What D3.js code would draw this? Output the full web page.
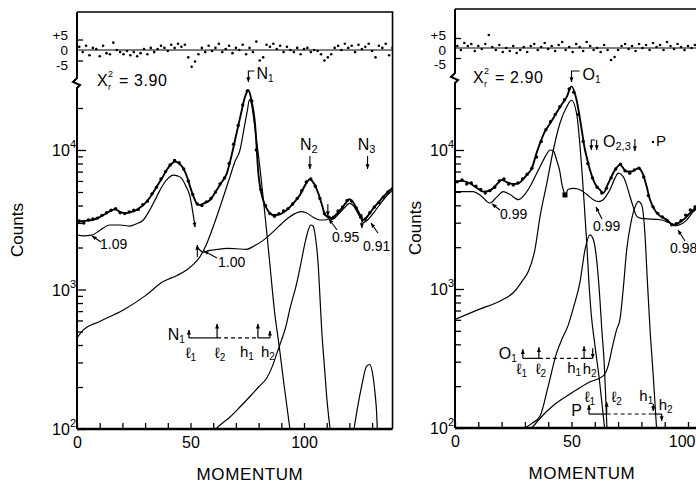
<!DOCTYPE html>
<html><head><meta charset="utf-8">
<script src="https://cdn.jsdelivr.net/npm/d3@7"></script>
<style>
body{margin:0;background:#fff}
svg{display:block}
text{font-family:"Liberation Sans",Arial,"DejaVu Sans",sans-serif;fill:#000}
</style></head><body>
<svg id="c" width="696" height="484"></svg>
<script>
// ================= DATA =================
const xTickValues = [0,10,20,30,40,50,60,70,80,90,100,110,120,130];
const xTickLabels = [0,50,100];
const decadeTicks = [100,1000,10000];
const decadeExp = ["2","3","4"];
const minorTicks = [200,300,400,500,600,700,800,900,2000,3000,4000,5000,6000,7000,8000,9000,20000];
const residTicks = [5,0,-5];
const residTickLabels = ["+5","0","-5"];

// ---- Left panel (N states) ----
const leftChi = "3.90";
const leftFit = [[0,3050],[3,3100],[7,3160],[10,3300],[13,3520],[16.7,3760],[19,3600],[21,3520],[24,3600],[26.3,3720],[28.5,3950],[30.7,4260],[33,4800],[35.1,5460],[37.5,6300],[39.5,7200],[41.5,7900],[43.2,8250],[45,8000],[46.8,7400],[48.5,6400],[49.8,5460],[51.2,4700],[52.7,4150],[54,4040],[56,4150],[58.6,4380],[61,5000],[63.5,5800],[66,6800],[68,9000],[70.3,13200],[72,17500],[74,24000],[75.5,26900],[77,22000],[78.4,15600],[79.9,6800],[82,4380],[84,3700],[86.5,3420],[89,3450],[92.4,3720],[95,4100],[98.2,4750],[100.5,5600],[102.6,6170],[104.5,5700],[106.3,4900],[108,4000],[109.3,3420],[112.2,3240],[114.5,3500],[116.6,3810],[118.5,4200],[120,4440],[121.7,4200],[123.2,3810],[124.8,3400],[126.1,3150],[128,3350],[130.5,3810],[133,4250],[135,4630],[137.9,5170],[139,5300]];
const leftDataStart = 1, leftDataStep = 2;
const leftData = [3100,3000,3150,3200,3250,3400,3550,3700,3800,3550,3500,3600,3700,3750,4050,4300,4850,5400,6200,7000,7800,8400,8100,7300,6000,4800,4100,4000,4250,4500,5000,5700,6300,8000,11000,15000,21000,26500,22500,10000,5200,4000,3500,3350,3500,3650,3800,4100,4500,5100,5900,6200,5500,4500,3500,3300,3300,3650,3900,4350,4300,3850,3300,3200,3550,3900,4200,4600,5000,5300];
const leftResidStart = 1, leftResidStep = 1.5;
const leftResid = [1.5,-1,2,-2.5,1,0.5,-3,2,-1.5,-2,3.5,0,-1,-2,-0.5,-2.5,-1,-3,-1.5,0.5,-2,1,-1,0.5,2,1,-0.5,2.5,1,3,1.5,2.5,-3.5,-8,-5.5,-2,1,-1,2,-0.5,1,3,-1,0.5,2,-1.5,1,0,2.5,-2,1,-1,4,-5,-3.5,2.5,1.5,3,0.5,2,-1,1.5,0,-1,1,-2,0.5,1,-1,0,-0.5,-2,-5,-3.5,-2,1,2,0,3,1,2,-1,2.5,0.5,1.5,3,-0.5,-3.5,2,1,3,-2.5,1];
const leftBg109 = [[0,2450],[3,2420],[6.5,2450],[10,2650],[14.5,2900],[19,2900],[23.3,2850],[26,2950],[29.2,3150],[32,3700],[35.1,4630],[37.5,5500],[39.5,6100],[42.4,6600],[44.5,6500],[46.1,6270],[48,5500],[49.8,4630],[51,3600],[52,2800]];
const leftBg100 = [[53,2020],[55.6,1850],[58,1900],[60,1920],[63,1950],[66,1970],[70,1960],[74.7,1940],[78,2050],[82,2250],[86.5,2600],[90,2950],[93,3250],[96,3500],[98.5,3620],[101,3550],[104,3300],[107,3150],[109,3150],[111,3200]];
const leftBg095 = [[111,3150],[113,3200],[115,3450],[117.5,3800],[120,4150],[122,3950],[124,3450],[126,3050]];
const leftBg091 = [[126,3000],[128,3150],[131,3600],[134,4200],[137,4800],[139,5150]];
const leftN1 = [[0,449],[2.8,513],[10,590],[20.4,713],[30,900],[38,1140],[44,1260],[48.3,1380],[51,1500],[54.2,1720],[57,2100],[60,2820],[63,3900],[65,4900],[67.4,6440],[69.5,8200],[71.8,10000],[73.5,14000],[75,19000],[76,23000],[77,21000],[78,16000],[79,12000],[80,9000],[81,6500],[83,3200],[85,1500],[87,700],[89,400],[91,220],[93.8,100]];
const leftN2 = [[61,100],[64,110],[67.4,122],[72,145],[76.2,171],[80,200],[83.6,232],[86,280],[88,347],[90,430],[91.6,513],[94,750],[96.8,1110],[98.5,1500],[100.4,2140],[102,2700],[103,2900],[104,2850],[104.8,2520],[105.6,2000],[106.3,1460],[107,900],[107.8,513],[109,280],[110,170],[111.5,100]];
const leftN3 = [[122,100],[123.5,140],[125.4,203],[127.6,282],[129,290],[130.2,250],[131.3,180],[132,130],[132.3,100]];
const leftWindow = {m:[49.3,61.7,79.7,85], c:450};
const leftPeaks = [{name:"N",sub:"1",m:75.5},{name:"N",sub:"2",m:102.6},{name:"N",sub:"3",m:128}];
const leftBgLabels = ["1.09","1.00","0.95","0.91"];

// ---- Right panel (O, P states) ----
const rightChi = "2.90";
const rightFit = [[0,5930],[3,6000],[6.4,5760],[9,5400],[12.2,5020],[14,5050],[16.4,5300],[18.5,5800],[20,6100],[22,5900],[23.6,5760],[25.5,5700],[27.2,5760],[29,6100],[30.8,6610],[33,7400],[35,9500],[36.5,11200],[38.5,13500],[40.8,15500],[42.5,17300],[44.3,19400],[46,21500],[47.9,24000],[50,28700],[52.2,22800],[54.4,13900],[55.8,10000],[56.5,8950],[57.9,7200],[60,5760],[62.2,5170],[63.6,4900],[65.8,5760],[68.7,7200],[70.8,7810],[73.7,7000],[75.8,7000],[78.7,7390],[80.8,6610],[82.2,5500],[83.7,4380],[86.6,3520],[90.9,3150],[93.7,2900],[98,3150],[102.3,3720],[106,4100]];
const rightDataStart = 1, rightDataStep = 2;
const rightData = [5900,6100,5700,5800,5500,5200,4900,5100,5400,6000,6200,5700,5600,5800,6200,6700,7400,8900,11500,14000,16000,18000,20500,23000,27500,26000,18000,11500,8000,6300,5400,4900,5300,6300,7300,7900,7100,6800,7200,7400,6400,4700,3900,3500,3300,3100,2900,2950,3100,3400,3700,3900];
const rightResidStart = 1, rightResidStep = 1.5;
const rightResid = [1,-1,2.5,1,2,-1.5,1,-0.5,2,6.5,0.5,-1,1.5,-2,0,-1.5,1,-2.5,-1,0.5,-2,1,2,-1,0.5,2.5,-0.5,1,-1.5,1.5,3,-1,0.5,-2,2,0.5,-1.5,3,1,-1,0,-2,1.5,-1,-6,-4.5,-1,1,2,-0.5,1,-1.5,2,0,1.5,-1,2.5,0.5,1.5,-1,3,1,-0.5,2,0.5,-1,1,0,1.5];
const rightBgA = [[0,5020],[4,5020],[7.9,5020],[11,4700],[15,4150],[18,4600],[20.7,5020],[23.5,4800],[27.2,4390],[30,4800],[32.2,5460],[34.5,6500],[36.5,7590],[38.8,9000],[40.8,10000],[42.3,9800],[43.6,8480],[45,7000],[45.8,5760],[47.2,4750]];
const rightBgB = [[47.6,4750],[48.6,5220],[51,5300],[53.6,5170],[56.5,4800],[59.4,4390],[61.5,4250],[63.6,4390],[65,4700],[66.5,5170],[68.5,6200],[70.1,6810],[72.2,6440],[73.8,5500],[75.1,4630],[76.5,3900],[78,3330],[80,3220],[82.3,3200],[88,3150],[93.7,2900]];
const rightBgC = [[93.7,2850],[96,2880],[99,3080],[102.3,3600],[106,4000]];
const rightO1 = [[0,604],[10,710],[20,830],[25,940],[29,1150],[31.5,1340],[34.3,1920],[36.5,3330],[39.4,5760],[42.2,10000],[45,15500],[47.9,20400],[50,22800],[52.2,18300],[53.6,11000],[54.5,7000],[55.5,4000],[56.5,2200],[57.5,1100],[58.5,650],[60,400],[62,220],[64.2,100]];
const rightO2 = [[30,100],[33,108],[36.5,122],[40,200],[43.6,347],[46,440],[48.6,550],[51,750],[53.6,1110],[55.8,1920],[57.9,2450],[59.4,2260],[60.8,1620],[62.2,841],[63,513],[64,300],[65.2,100]];
const rightP = [[33,100],[37,120],[42.2,145],[48,170],[53.6,195],[58,215],[63.6,237],[65.8,282],[67.5,380],[69.4,513],[70.8,604],[72.2,1000],[73.7,1920],[75.5,3000],[77.3,3900],[78.7,4270],[80.1,4040],[81.5,2520],[82.5,1200],[83.7,513],[85,250],[86.5,100]];
const rightWindowO = {m:[29.1,36,55.4,59.1], c:317};
const rightWindowP = {m:[57.5,65.1,85.1,88.7], c:126};
const rightBgLabels = ["0.99","0.99","0.98"];

// ================= DRAWING =================
const W = 696;
const svg = d3.select("#c");
const defs = svg.append("defs");
defs.append("marker").attr("id","ah").attr("viewBox","0 0 8 8").attr("refX",7.5).attr("refY",4)
  .attr("markerWidth",5).attr("markerHeight",5).attr("orient","auto").attr("markerUnits","userSpaceOnUse")
  .append("path").attr("d","M0,0.8 L8,4 L0,7.2 Z").attr("fill","#000");

function T(g, x, y, parts, size, anchor){
  const t = g.append("text").attr("x",x).attr("y",y).attr("font-size",size).attr("text-anchor",anchor||"start");
  parts.forEach(p=>{
    const s = t.append("tspan").text(p.t);
    if(p.fs) s.attr("font-size",p.fs);
    if(p.dy) s.attr("dy",p.dy);
    if(p.dx) s.attr("dx",p.dx);
  });
  return t;
}
function arrow(g,x1,y1,x2,y2,w){
  g.append("line").attr("x1",x1).attr("y1",y1).attr("x2",x2).attr("y2",y2)
   .attr("stroke","#000").attr("stroke-width",w||1.1).attr("marker-end","url(#ah)");
}

function panel(p){
  const x = d3.scaleLinear().domain([0,p.xmax]).range([p.left, p.left + p.xmax*p.ppu]);
  const y = d3.scaleLog().domain([100,10000]).range([p.y100, p.y1e4]);
  const r = d3.scaleLinear().domain([-5,5]).range([p.r0 + 5*p.rpu, p.r0 - 5*p.rpu]);
  const right = x(p.xmax);
  const g = svg.append("g");
  const cid = "clip"+p.id;
  defs.append("clipPath").attr("id",cid).append("rect")
    .attr("x",p.left).attr("y",p.yTop).attr("width",right-p.left).attr("height",p.y100-p.yTop+1);

  g.append("path").attr("d",`M${p.left},${p.yTop}H${right}V${p.y100}`).attr("fill","none").attr("stroke","#000").attr("stroke-width",1.6);
  g.append("path").attr("d",`M${p.left},${p.yTop}V${p.brk}L${p.left-4},${p.brk+4}L${p.left+3},${p.brk+7}L${p.left},${p.brk+10}V${p.y100}`)
    .attr("fill","none").attr("stroke","#000").attr("stroke-width",2);

  const xa = d3.axisBottom(x).tickValues(xTickValues).tickSize(-6).tickSizeOuter(0).tickPadding(8)
    .tickFormat(d => xTickLabels.includes(d) ? d : "");
  const gx = g.append("g").attr("transform",`translate(0,${p.y100})`).call(xa);
  gx.select(".domain").attr("stroke-width",2.4).attr("d",`M${p.left},0H${right}`);
  gx.selectAll(".tick line").attr("stroke-width",1.3);
  gx.selectAll(".tick text").attr("font-size",16).attr("font-family","Liberation Sans, Arial, sans-serif").attr("fill","#000")
    .each(function(d){
      // keep a label that would run past the picture's right edge inside it
      const px = x(d);
      if (px + 13 > W) d3.select(this).attr("text-anchor","end").attr("x", W - 1 - px);
    });

  const ya1 = d3.axisRight(y).tickValues(decadeTicks).tickSize(9).tickFormat("");
  const ya2 = d3.axisRight(y).tickValues(minorTicks).tickSize(6).tickFormat("");
  [ya1,ya2].forEach(a=>{
    const ga = g.append("g").attr("transform",`translate(${p.left},0)`).call(a);
    ga.select(".domain").remove();
    ga.selectAll(".tick line").attr("stroke-width",1.3);
  });
  decadeTicks.forEach((d,i)=>{
    T(g, p.left-1, y(d)+6, [{t:"10"},{t:decadeExp[i],fs:11,dy:-8}], 16, "end");
  });

  const ra = d3.axisRight(r).tickValues([5,-5]).tickSize(6).tickFormat("");
  const gr = g.append("g").attr("transform",`translate(${p.left},0)`).call(ra);
  gr.select(".domain").remove();
  gr.selectAll(".tick line").attr("stroke-width",1.3);
  g.append("line").attr("x1",p.left).attr("x2",right).attr("y1",r(0)).attr("y2",r(0)).attr("stroke","#000").attr("stroke-width",1.1);
  residTicks.forEach((d,i)=>{
    T(g, p.left-9, p.rLabY[i], [{t:residTickLabels[i]}], 13.5, "end");
  });

  const cg = g.append("g").attr("clip-path",`url(#${cid})`);
  const line = d3.line().x(d=>x(d[0])).y(d=>y(d[1])).curve(d3.curveMonotoneX);
  p.comps.forEach(c=>{
    const path = cg.append("path").attr("d",line(c.d)).attr("fill","none").attr("stroke","#000").attr("stroke-width",c.w||1.2);
    if(c.end) path.attr("marker-end","url(#ah)");
  });
  cg.append("path").attr("d",line(p.fit)).attr("fill","none").attr("stroke","#000").attr("stroke-width",1.9);
  cg.selectAll("circle.d").data(p.data).join("circle").attr("class","d")
    .attr("cx",(d,i)=>x(p.dStart+i*p.dStep)).attr("cy",d=>y(d)).attr("r",1.7).attr("fill","#000");
  cg.selectAll("circle.r").data(p.resid).join("circle").attr("class","r")
    .attr("cx",(d,i)=>x(p.rStart+i*p.rStep)).attr("cy",d=>r(d)).attr("r",1.3).attr("fill","#000");

  T(g, p.chiX, p.chiY, [{t:"X"}], 16);
  T(g, p.chiX+11, p.chiY-9, [{t:"2"}], 9);
  T(g, p.chiX+11, p.chiY+4, [{t:"r"}], 9);
  T(g, p.chiX+22, p.chiY, [{t:"= "+p.chi}], 16).attr("letter-spacing",0.6);

  g.append("text").attr("transform",`translate(${p.countsX},${p.countsY}) rotate(-90)`).attr("text-anchor","middle")
    .attr("font-size",17).text("Counts");
  g.append("text").attr("x",p.momX).attr("y",p.momY).attr("text-anchor","middle").attr("font-size",17)
    .attr("letter-spacing",0.6).text("MOMENTUM");

  return {g,x,y,r};
}

function windowAnn(g, x, y, w, o){
  const Y = y(w.c);
  const xs = w.m.map(x);
  g.append("line").attr("x1",xs[0]).attr("x2",xs[1]).attr("y1",Y).attr("y2",Y).attr("stroke","#000").attr("stroke-width",1.2);
  g.append("line").attr("x1",xs[1]).attr("x2",xs[2]).attr("y1",Y).attr("y2",Y).attr("stroke","#000").attr("stroke-width",1.1).attr("stroke-dasharray","4,3");
  g.append("line").attr("x1",xs[2]).attr("x2",xs[3]).attr("y1",Y).attr("y2",Y).attr("stroke","#000").attr("stroke-width",1.2);
  o.arrows.forEach((a,i)=> arrow(g, xs[i], Y + a[0], xs[i], Y + a[1], 1.2));
  const names = [["ℓ","1"],["ℓ","2"],["h","1"],["h","2"]];
  names.forEach((n,i)=>{
    T(g, xs[i]+o.lab[i][0], Y+o.lab[i][1], [{t:n[0]},{t:n[1],fs:10,dy:3}], 15, "middle");
  });
  T(g, xs[0]+o.name[0], Y+o.name[1], [{t:o.nm},{t:o.nsub,fs:10,dy:3}], 16, "end");
}

// ---------- LEFT ----------
const L = panel({id:"L", left:77, ppu:2.27, xmax:139, y100:429, y1e4:150, yTop:12, brk:78,
  r0:50, rpu:2.1, rLabY:[40,55,70],
  fit:leftFit, data:leftData, dStart:leftDataStart, dStep:leftDataStep,
  resid:leftResid, rStart:leftResidStart, rStep:leftResidStep,
  comps:[{d:leftBg109,end:true},{d:leftBg100},{d:leftBg095},{d:leftBg091},{d:leftN1},{d:leftN2},{d:leftN3}],
  chi:leftChi, chiX:97, chiY:86, countsX:23, countsY:230, momX:250, momY:480});
(function(){
  const {g,x,y} = L;
  const p1 = x(leftPeaks[0].m);
  g.append("path").attr("d",`M${p1+6},71H${p1}V82`).attr("fill","none").attr("stroke","#000").attr("stroke-width",1.1).attr("marker-end","url(#ah)");
  T(g, p1+8, 79, [{t:"N"},{t:"1",fs:10,dy:3}], 16);
  [1,2].forEach(i=>{
    const px = x(leftPeaks[i].m);
    T(g, px-1, 150, [{t:leftPeaks[i].name},{t:leftPeaks[i].sub,fs:11,dy:3}], 16, "middle");
    arrow(g, px, 156, px, 169, 1.1);
  });
  T(g, 100, 249, [{t:leftBgLabels[0]}], 14); arrow(g, 101, 242, 92, 236);
  T(g, 218, 267, [{t:leftBgLabels[1]}], 14); arrow(g, 217, 258, 204, 251);
  arrow(g, x(53), 257, x(53), 245);
  T(g, 332, 242, [{t:leftBgLabels[2]}], 14); arrow(g, 337, 230, 329, 219);
  arrow(g, x(110.5), 204, x(110.5), 216);
  T(g, 363, 251, [{t:leftBgLabels[3]}], 14); arrow(g, 378, 233, 371, 223);
  arrow(g, x(125.5), 214, x(125.5), 228);
  windowAnn(g, x, y, leftWindow, {
    arrows:[[0,-8],[0,-14],[0,-14],[0,-7]],
    lab:[[2,20],[3,20],[-11,19],[-2,19]],
    name:[-4,2], nm:"N", nsub:"1"});
})();

// ---------- RIGHT ----------
const R = panel({id:"R", left:455, ppu:2.33, xmax:120, y100:428, y1e4:150, yTop:9, brk:73,
  r0:48, rpu:2.0, rLabY:[40,55,69],
  fit:rightFit, data:rightData, dStart:rightDataStart, dStep:rightDataStep,
  resid:rightResid, rStart:rightResidStart, rStep:rightResidStep,
  comps:[{d:rightBgA},{d:rightBgB},{d:rightBgC},{d:rightO1},{d:rightO2},{d:rightP}],
  chi:rightChi, chiX:473, chiY:83, countsX:421, countsY:228, momX:582, momY:479});
(function(){
  const {g,x,y} = R;
  const o1 = x(50);
  g.append("path").attr("d",`M${o1+8},71H${o1}V82`).attr("fill","none").attr("stroke","#000").attr("stroke-width",1.1).attr("marker-end","url(#ah)");
  T(g, o1+11, 80, [{t:"O"},{t:"1",fs:10,dy:3}], 16);
  const a1 = x(58.5), a2 = x(60.8), a3 = x(77.2);
  g.append("path").attr("d",`M${a1+4},140H${a1}V150`).attr("fill","none").attr("stroke","#000").attr("stroke-width",1.1).attr("marker-end","url(#ah)");
  arrow(g, a2, 140, a2, 150);
  T(g, 603, 147, [{t:"O"},{t:"2,3",fs:11,dy:3}], 16);
  arrow(g, a3, 139, a3, 151);
  g.append("circle").attr("cx",x(85)).attr("cy",142).attr("r",1.2).attr("fill","#000");
  T(g, 656, 146, [{t:"P"}], 15);
  g.append("rect").attr("x",x(47.2)-2.5).attr("y",y(4750)-2.5).attr("width",5).attr("height",5).attr("fill","#000");
  T(g, 500, 219, [{t:rightBgLabels[0]}], 14); arrow(g, 500, 210, 492, 204);
  T(g, 593, 231, [{t:rightBgLabels[1]}], 14); arrow(g, 602, 219, 596, 207);
  T(g, 670, 253, [{t:rightBgLabels[2]}], 14); arrow(g, 685, 241, 678, 230);
  windowAnn(g, x, y, rightWindowO, {
    arrows:[[0,-9],[0,-11],[0,-12],[-10,0]],
    lab:[[-1,16],[2,16],[-10,15],[-3,16]],
    name:[-6,1], nm:"O", nsub:"1"});
  windowAnn(g, x, y, rightWindowP, {
    arrows:[[0,-9],[0,-12],[-10,-3],[0,7]],
    lab:[[1,-12],[10,-12],[-7,-13],[4,-4]],
    name:[-7,2], nm:"P", nsub:""});
})();
</script>
</body></html>
